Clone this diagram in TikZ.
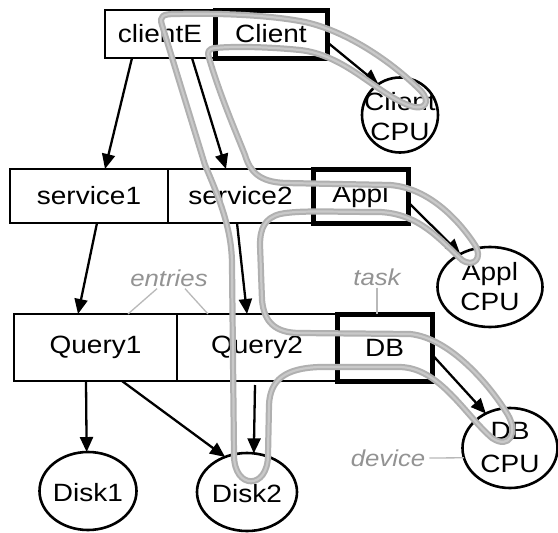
\documentclass[tikz,border=0pt]{standalone}
\usepackage{fontspec}
\setmainfont[FakeStretch=1.12]{Liberation Sans}
\usetikzlibrary{arrows.meta,shapes.geometric}
\newcommand\LQNfont{\fontsize{25}{30}\selectfont}
\newcommand\LQNlab{\fontsize{23}{27}\selectfont\itshape}
\begin{document}
\begin{tikzpicture}[x=1pt,y=-1pt,
  entrybox/.style={draw, line width=2.8pt, rectangle, inner sep=0pt, outer sep=0pt, font=\LQNfont},
  taskbox/.style={draw, line width=5pt, rectangle, inner sep=0pt, outer sep=0pt, font=\LQNfont},
  devshape/.style={draw, line width=2.6pt, ellipse, inner sep=0pt, outer sep=0pt},
  devtext/.style={font=\LQNfont, align=center, inner sep=0pt},
  call/.style={line width=2.3pt, -{Triangle[length=15pt,width=13pt]}},
  annot/.style={font=\LQNlab, text=gray!85, inner sep=0pt},
  annotline/.style={draw=gray!55, line width=1.3pt},
  thread/.style={draw=gray!62, double=gray!42, line width=2pt, double distance=2.2pt, line join=round}
]
\fill[white] (0,0) rectangle (558,533);
\useasboundingbox (0,0) rectangle (558,533);

% entries and tasks
\node[entrybox, minimum width=110pt, minimum height=48pt] (clientE) at (160,34) {clientE};
\node[taskbox, minimum width=112pt, minimum height=48pt] (Client) at (271,34) {Client};
\node[entrybox, minimum width=158pt, minimum height=54pt] (service1) at (89,196) {service1};
\node[entrybox, minimum width=145pt, minimum height=54pt] (service2) at (240.5,196) {service2};
\node[taskbox, minimum width=95pt, minimum height=54pt] (Appl) at (360.5,196) {Appl};
\node[entrybox, minimum width=163pt, minimum height=67pt] (Query1) at (95.5,347.5) {Query1};
\node[entrybox, minimum width=160pt, minimum height=67pt] (Query2) at (257,347.5) {Query2};
\node[taskbox, minimum width=95pt, minimum height=67pt] (DB) at (384.5,347.5) {DB};

% devices
\node[devshape, minimum width=76pt, minimum height=75pt] (ClientCPU) at (400,115) {};
\node[devtext] (ClientCPUt) at (400,117) {Client\\CPU};
\node[devshape, minimum width=105pt, minimum height=80pt] (ApplCPU) at (490,287) {};
\node[devtext] (ApplCPUt) at (490,287) {Appl\\CPU};
\node[devshape, minimum width=95pt, minimum height=80pt] (DBCPU) at (510,448) {};
\node[devtext] (DBCPUt) at (510,448) {DB\\[3pt]CPU};
\node[devshape, minimum width=97pt, minimum height=78pt] (Disk1) at (88,491) {};
\node[devtext] (Disk1t) at (88,493) {Disk1};
\node[devshape, minimum width=100pt, minimum height=78pt] (Disk2) at (247,492) {};
\node[devtext] (Disk2t) at (247,494) {Disk2};

% annotations
\node[annot] (entries) at (169,278) {entries};
\draw[annotline] ([xshift=-12pt,yshift=-2pt]entries.south) -- ([xshift=32.5pt]Query1.north);
\draw[annotline] ([xshift=16pt,yshift=-2pt]entries.south) -- ([xshift=-49pt]Query2.north);
\node[annot] (task) at (377,277) {task};
\draw[annotline] ([yshift=-2pt]task.south) -- ([xshift=-7.5pt]DB.north);
\node[annot] (device) at (388,458) {device};
\draw[annotline] ([xshift=4pt]device.east) -- (DBCPU.192);

% calls
\draw[call] ([xshift=-28pt]clientE.south) -- ([xshift=16pt]service1.north);
\draw[call] ([xshift=32pt]clientE.south) -- ([xshift=-14.5pt]service2.north);
\draw[call] ([yshift=-8pt]Client.east) -- (ClientCPU.125);
\draw[call] ([xshift=8pt]service1.south) -- ([xshift=-17.5pt]Query1.north);
\draw[call] ([xshift=-3.5pt]service2.south) -- ([xshift=-10pt]Query2.north);
\draw[call] ([yshift=-6pt]Appl.east) -- (ApplCPU.132);
\draw[call] ([xshift=-9.5pt]Query1.south) -- (Disk1.92);
\draw[call] ([xshift=26.5pt]Query1.south) -- (Disk2.122);
\draw[call] ([xshift=-2pt,yshift=-4pt]Query2.south) -- (Disk2.80);
\draw[call] ([yshift=-7pt]DB.east) -- (DBCPU.125);

% execution thread
\draw[thread] (175,14) .. controls (220,13) and (270,15) .. (305,22)
  .. controls (350,32) and (395,65) .. (420,90)
  .. controls (432,102) and (425,112) .. (408,105)
  .. controls (375,92) and (345,55) .. (300,50)
  .. controls (270,47) and (235,46) .. (215,48)
  .. controls (208,49) and (207,52) .. (209,58)
  .. controls (220,95) and (235,130) .. (245,155)
  .. controls (250,172) and (260,182) .. (285,183)
  -- (390,185)
  .. controls (430,188) and (460,222) .. (475,245)
  .. controls (483,258) and (474,268) .. (462,260)
  .. controls (440,240) and (420,214) .. (380,212)
  .. controls (330,212) and (300,210) .. (280,214)
  .. controls (265,218) and (260,228) .. (260,245)
  -- (262,300)
  .. controls (264,322) and (275,333) .. (300,333)
  -- (410,334)
  .. controls (450,338) and (490,385) .. (508,415)
  .. controls (518,432) and (510,450) .. (492,438)
  .. controls (465,415) and (440,368) .. (400,367)
  -- (320,367)
  .. controls (285,368) and (270,380) .. (269,405)
  -- (268,455)
  .. controls (268,490) and (234,490) .. (234,455)
  -- (232,265)
  .. controls (232,230) and (220,200) .. (205,165)
  -- (162,25)
  .. controls (159,16) and (163,14) .. cycle;
\end{tikzpicture}
\end{document}
